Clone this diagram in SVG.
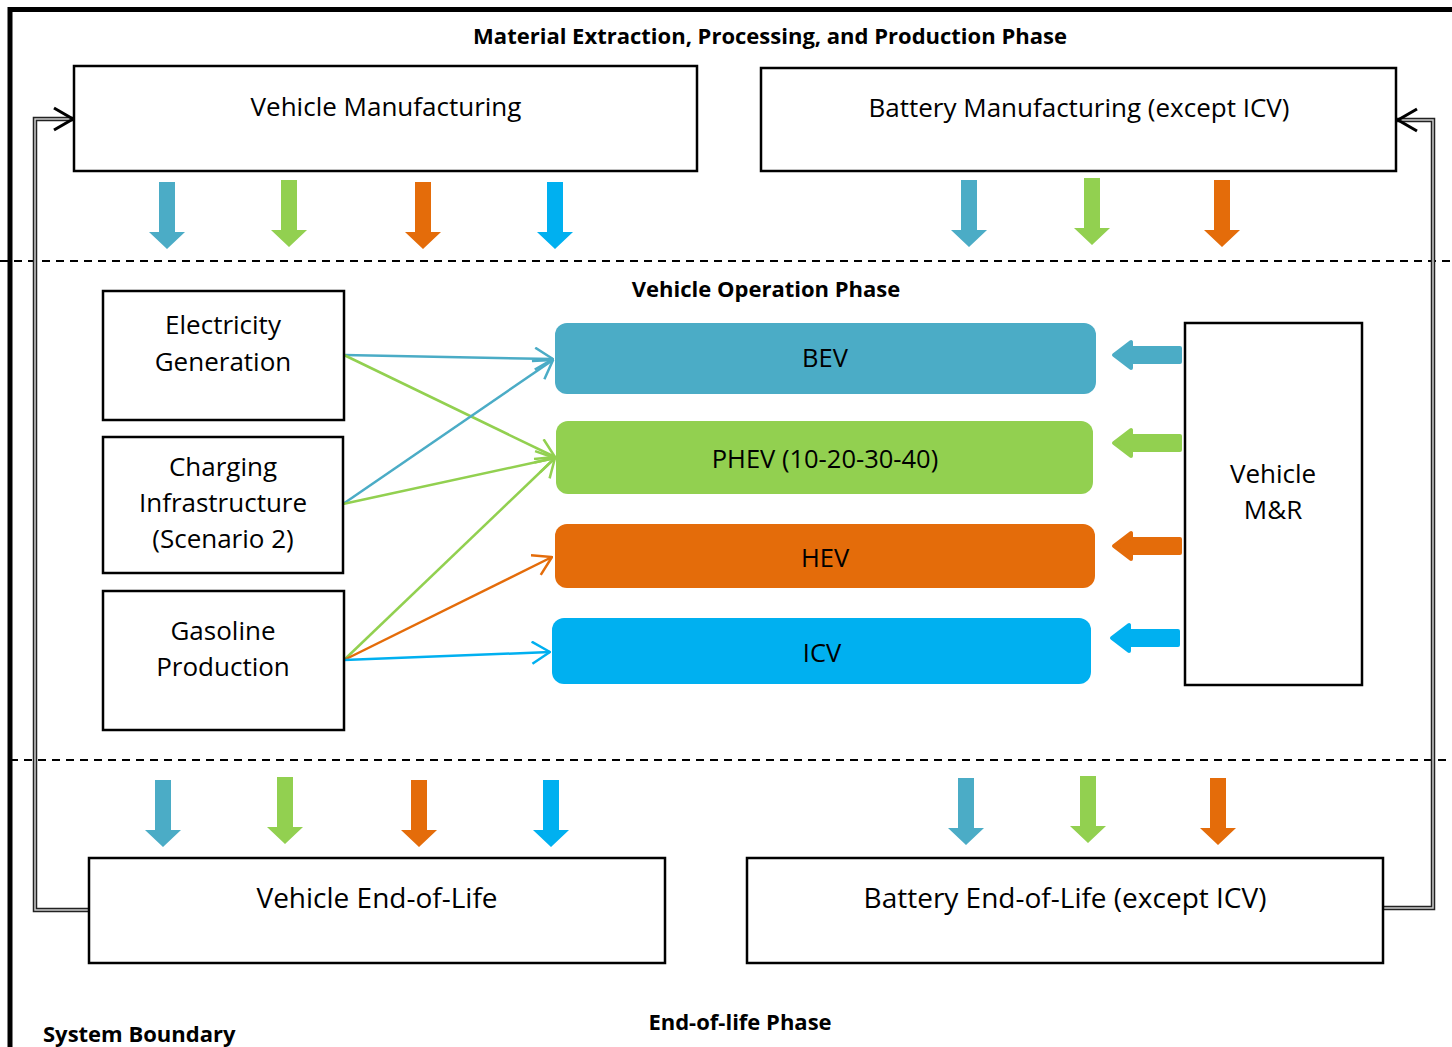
<svg xmlns="http://www.w3.org/2000/svg" width="1452" height="1047" viewBox="0 0 1452 1047">
<style>
.box{fill:#fff;stroke:#000;stroke-width:2.5}
.t{font-family:"Open Sans","Liberation Sans",sans-serif;font-size:26px;fill:#000;text-anchor:middle}
.tb{font-family:"Open Sans","Liberation Sans",sans-serif;font-size:22px;font-weight:bold;fill:#000;text-anchor:middle}
.bar{font-family:"Open Sans","Liberation Sans",sans-serif;font-size:25.5px;fill:#000;text-anchor:middle}
.dash{stroke:#000;stroke-width:2;stroke-dasharray:8 6;fill:none}
.loopo{fill:none;stroke:#222;stroke-width:4.5}
.loopi{fill:none;stroke:#ccc;stroke-width:1.5}
.chev{fill:none;stroke:#000;stroke-width:3}
.c{fill:none;stroke-width:2.5}
.teal{fill:#4BACC6}
.green{fill:#92D050}
.orange{fill:#E46C0A}
.blue{fill:#00B0F0}
</style>
<defs>
<polygon id="dn" points="-8,0 8,0 8,50 18,50 0,67 -18,50 -8,50"/>
<path id="lf" d="M0,0 L17,-13 L17,-7 L66,-7 L66,7 L17,7 L17,13 Z" stroke-linejoin="round" stroke-width="4"/>
<marker id="mTeal" viewBox="0 0 20 24" refX="19" refY="12" markerWidth="20" markerHeight="24" markerUnits="userSpaceOnUse" orient="auto"><path d="M1,1 L19,12 L1,23" fill="none" stroke="#4BACC6" stroke-width="2.5"/></marker>
<marker id="mGreen" viewBox="0 0 20 24" refX="19" refY="12" markerWidth="20" markerHeight="24" markerUnits="userSpaceOnUse" orient="auto"><path d="M1,1 L19,12 L1,23" fill="none" stroke="#92D050" stroke-width="2.5"/></marker>
<marker id="mOrange" viewBox="0 0 20 24" refX="19" refY="12" markerWidth="20" markerHeight="24" markerUnits="userSpaceOnUse" orient="auto"><path d="M1,1 L19,12 L1,23" fill="none" stroke="#E46C0A" stroke-width="2.5"/></marker>
<marker id="mBlue" viewBox="0 0 20 24" refX="19" refY="12" markerWidth="20" markerHeight="24" markerUnits="userSpaceOnUse" orient="auto"><path d="M1,1 L19,12 L1,23" fill="none" stroke="#00B0F0" stroke-width="2.5"/></marker>
</defs>
<rect width="1452" height="1047" fill="#fff"/>

<!-- system boundary -->
<path d="M1452,9.5 H10 V1047" fill="none" stroke="#000" stroke-width="5"/>
<line class="dash" x1="0" y1="261" x2="1452" y2="261"/>
<line class="dash" x1="10" y1="760" x2="1452" y2="760"/>

<text class="tb" x="770" y="44">Material Extraction, Processing, and Production Phase</text>
<text class="tb" x="766" y="297">Vehicle Operation Phase</text>
<text class="tb" x="740" y="1030">End-of-life Phase</text>
<text class="tb" x="43" y="1042" style="text-anchor:start">System Boundary</text>

<!-- connectors -->
<g id="connectors">
<path class="loopo" d="M74,119 H35 V910 H89"/>
<path class="loopi" d="M74,119 H35 V910 H89"/>
<path class="chev" d="M54,108 L73,119 L54,130"/>
<path class="loopo" d="M1397,120 H1433 V908 H1383"/>
<path class="loopi" d="M1397,120 H1433 V908 H1383"/>
<path class="chev" d="M1417,109 L1398,120 L1417,131"/>

<line class="c" x1="344" y1="355" x2="553" y2="359" stroke="#4BACC6" marker-end="url(#mTeal)"/>
<line class="c" x1="344" y1="355" x2="555" y2="457" stroke="#92D050" marker-end="url(#mGreen)"/>
<line class="c" x1="343" y1="504" x2="553" y2="360" stroke="#4BACC6" marker-end="url(#mTeal)"/>
<line class="c" x1="343" y1="504" x2="555" y2="458" stroke="#92D050" marker-end="url(#mGreen)"/>
<line class="c" x1="344" y1="660" x2="555" y2="458" stroke="#92D050" marker-end="url(#mGreen)"/>
<line class="c" x1="344" y1="660" x2="552" y2="557" stroke="#E46C0A" marker-end="url(#mOrange)"/>
<line class="c" x1="344" y1="660" x2="550" y2="652" stroke="#00B0F0" marker-end="url(#mBlue)"/>

<!-- down arrows top -->
<use href="#dn" class="teal" x="167" y="182"/>
<use href="#dn" class="green" x="289" y="180"/>
<use href="#dn" class="orange" x="423" y="182"/>
<use href="#dn" class="blue" x="555" y="182"/>
<use href="#dn" class="teal" x="969" y="180"/>
<use href="#dn" class="green" x="1092" y="178"/>
<use href="#dn" class="orange" x="1222" y="180"/>
<!-- down arrows bottom -->
<use href="#dn" class="teal" x="163" y="780"/>
<use href="#dn" class="green" x="285" y="777"/>
<use href="#dn" class="orange" x="419" y="780"/>
<use href="#dn" class="blue" x="551" y="780"/>
<use href="#dn" class="teal" x="966" y="778"/>
<use href="#dn" class="green" x="1088" y="776"/>
<use href="#dn" class="orange" x="1218" y="778"/>
<!-- left arrows from M&R -->
<use href="#lf" class="teal" stroke="#4BACC6" x="1114" y="355"/>
<use href="#lf" class="green" stroke="#92D050" x="1114" y="443"/>
<use href="#lf" class="orange" stroke="#E46C0A" x="1114" y="546"/>
<use href="#lf" class="blue" stroke="#00B0F0" x="1112" y="638"/>
</g>

<g id="vehicle-manufacturing"><rect class="box" x="74" y="66" width="623" height="105"/><text class="t" x="386" y="116">Vehicle Manufacturing</text></g>
<g id="battery-manufacturing"><rect class="box" x="761" y="68" width="635" height="103"/><text class="t" x="1079" y="117">Battery Manufacturing (except ICV)</text></g>

<g id="electricity"><rect class="box" x="103" y="291" width="241" height="129"/><text class="t" x="223" y="334">Electricity</text><text class="t" x="223" y="371">Generation</text></g>
<g id="charging"><rect class="box" x="103" y="437" width="240" height="136"/><text class="t" x="223" y="476">Charging</text><text class="t" x="223" y="512">Infrastructure</text><text class="t" x="223" y="548">(Scenario 2)</text></g>
<g id="gasoline"><rect class="box" x="103" y="591" width="241" height="139"/><text class="t" x="223" y="640">Gasoline</text><text class="t" x="223" y="676">Production</text></g>

<g id="bev"><rect x="555" y="323" width="541" height="71" rx="12" class="teal"/><text class="bar" x="825" y="367">BEV</text></g>
<g id="phev"><rect x="556" y="421" width="537" height="73" rx="12" class="green"/><text class="bar" x="825" y="468">PHEV (10-20-30-40)</text></g>
<g id="hev"><rect x="555" y="524" width="540" height="64" rx="12" class="orange"/><text class="bar" x="825" y="567">HEV</text></g>
<g id="icv"><rect x="552" y="618" width="539" height="66" rx="12" class="blue"/><text class="bar" x="822" y="662">ICV</text></g>

<g id="vehicle-mr"><rect class="box" x="1185" y="323" width="177" height="362"/><text class="t" x="1273" y="483">Vehicle</text><text class="t" x="1273" y="519">M&amp;R</text></g>

<g id="vehicle-eol"><rect class="box" x="89" y="858" width="576" height="105"/><text class="t" x="377" y="908" style="font-size:28px">Vehicle End-of-Life</text></g>
<g id="battery-eol"><rect class="box" x="747" y="858" width="636" height="105"/><text class="t" x="1065" y="908" style="font-size:28px">Battery End-of-Life (except ICV)</text></g>
</svg>
